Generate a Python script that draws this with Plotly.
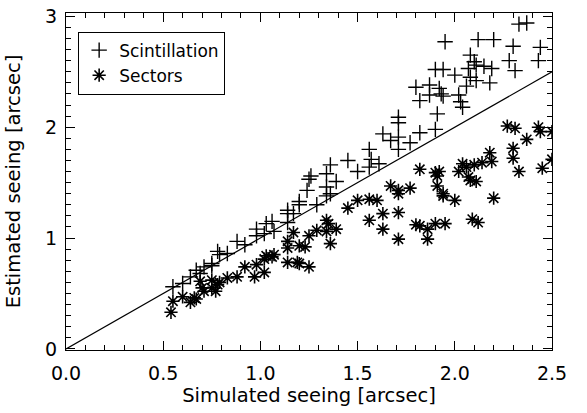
import plotly.graph_objects as go

# Scintillation estimates (+)
scint_x = [0.55, 0.60, 0.64, 0.67, 0.69, 0.71, 0.75, 0.75, 0.78, 0.79,
           0.83, 0.88, 0.92, 0.98, 0.98, 1.02, 1.03, 1.06, 1.07, 1.14,
           1.14, 1.17, 1.14, 1.20, 1.20, 1.24, 1.25, 1.26, 1.29, 1.34,
           1.34, 1.34, 1.36, 1.36, 1.39, 1.45, 1.50, 1.56, 1.57, 1.56,
           1.61, 1.63, 1.67, 1.71, 1.71, 1.71, 1.71, 1.77, 1.80, 1.82,
           1.82, 1.87, 1.87, 1.90, 1.90, 1.91, 1.92, 1.93, 1.94, 1.94,
           1.95, 2.00, 2.02, 2.03, 2.04, 2.06, 2.07, 2.08, 2.08, 2.10,
           2.11, 2.11, 2.12, 2.15, 2.18, 2.19, 2.20, 2.28, 2.30, 2.31,
           2.33, 2.37, 2.43, 2.44]
scint_y = [0.56, 0.59, 0.65, 0.71, 0.68, 0.74, 0.75, 0.77, 0.88, 0.85,
           0.86, 0.97, 0.94, 1.08, 1.02, 1.04, 1.13, 1.15, 1.06, 1.25,
           1.22, 1.22, 1.14, 1.30, 1.33, 1.43, 1.53, 1.56, 1.30, 1.46,
           1.58, 1.38, 1.40, 1.66, 1.51, 1.70, 1.60, 1.80, 1.71, 1.64,
           1.67, 1.94, 1.88, 1.91, 1.80, 2.04, 2.09, 1.86, 2.36, 2.24,
           1.95, 2.38, 2.29, 1.98, 2.52, 2.12, 2.35, 2.30, 2.28, 2.52,
           2.77, 2.47, 2.29, 2.23, 2.18, 2.37, 2.53, 2.45, 2.65, 2.59,
           2.56, 2.42, 2.79, 2.55, 2.40, 2.53, 2.79, 2.60, 2.73, 2.51,
           2.93, 2.94, 2.60, 2.72]

# Sectors estimates (*)
sect_x = [0.54, 0.55, 0.60, 0.64, 0.66, 0.67, 0.69, 0.70, 0.71, 0.75,
          0.75, 0.77, 0.78, 0.79, 0.83, 0.88, 0.92, 0.97, 0.98, 1.02,
          1.02, 1.03, 1.06, 1.07, 1.14, 1.14, 1.14, 1.17, 1.19, 1.20,
          1.20, 1.23, 1.25, 1.25, 1.29, 1.34, 1.35, 1.36, 1.39, 1.34,
          1.45, 1.50, 1.56, 1.60, 1.56, 1.63, 1.63, 1.67, 1.71, 1.71,
          1.71, 1.71, 1.77, 1.80, 1.82, 1.82, 1.86, 1.86, 1.90, 1.92,
          1.91, 1.91, 1.90, 1.94, 1.94, 1.95, 2.00, 2.02, 2.04, 2.06,
          2.07, 2.08, 2.09, 2.10, 2.11, 2.12, 2.14, 2.18, 2.19, 2.20,
          2.27, 2.30, 2.30, 2.31, 2.33, 2.37, 2.43, 2.44, 2.45, 2.50,
          2.50]
sect_y = [0.33, 0.43, 0.47, 0.42, 0.46, 0.45, 0.61, 0.55, 0.52, 0.62,
          0.55, 0.52, 0.58, 0.60, 0.64, 0.65, 0.74, 0.65, 0.76, 0.69,
          0.81, 0.84, 0.83, 0.85, 0.97, 0.91, 0.78, 1.05, 0.78, 0.77,
          0.93, 0.92, 1.02, 0.74, 1.07, 1.16, 1.13, 0.95, 1.08, 1.06,
          1.27, 1.34, 1.35, 1.34, 1.16, 1.22, 1.08, 1.47, 1.43, 1.40,
          1.23, 0.99, 1.45, 1.12, 1.11, 1.62, 1.08, 0.99, 1.59, 1.60,
          1.56, 1.47, 1.13, 1.40, 1.38, 1.13, 1.34, 1.60, 1.67, 1.64,
          1.55, 1.52, 1.17, 1.66, 1.51, 1.14, 1.68, 1.77, 1.69, 1.36,
          2.01, 1.81, 1.72, 1.99, 1.60, 1.89, 2.00, 1.96, 1.63, 1.96,
          1.71]

# One-to-one reference line
line_x = [0.0, 2.5]
line_y = [0.0, 2.5]

FONT = "DejaVu Sans"

fig = go.Figure()
fig.add_trace(go.Scatter(x=line_x, y=line_y, mode="lines",
                         line=dict(color="black", width=1.2),
                         showlegend=False, hoverinfo="skip"))
fig.add_trace(go.Scatter(x=scint_x, y=scint_y, mode="markers", name="Scintillation",
                         marker=dict(symbol="cross-thin-open", size=11, color="black",
                                     line=dict(color="black", width=1.4))))
fig.add_trace(go.Scatter(x=sect_x, y=sect_y, mode="markers", name="Sectors",
                         marker=dict(symbol="asterisk-open", size=11, color="black",
                                     line=dict(color="black", width=1.6))))

axis_common = dict(
    showline=True, linecolor="black", linewidth=1.2, mirror="allticks",
    ticks="inside", ticklen=9, tickwidth=1, tickcolor="black",
    showgrid=False, zeroline=False,
    tickfont=dict(family=FONT, size=19, color="black"),
    ticklabeloverflow="allow",
    minor=dict(ticks="inside", ticklen=4.5, tickwidth=1, tickcolor="black", dtick=0.1, showgrid=False),
)

fig.update_layout(
    width=587, height=413,
    margin=dict(l=66, r=35, t=5, b=63),
    paper_bgcolor="white", plot_bgcolor="white",
    font=dict(family=FONT, size=18, color="black"),
    xaxis=dict(range=[0, 2.5], dtick=0.5, tick0=0, tickformat=".1f",
               title=dict(text="Simulated seeing [arcsec]", font=dict(family=FONT, size=19.5), standoff=0),
               ticklabelstandoff=6,
               **axis_common),
    yaxis=dict(range=[-0.01, 3.03], dtick=1, tick0=0,
               title=dict(text="Estimated seeing [arcsec]", font=dict(family=FONT, size=19.5), standoff=19),
               ticklabelstandoff=4,
               **axis_common),
    legend=dict(x=0.025, y=0.945, xanchor="left", yanchor="top",
                bordercolor="black", borderwidth=1, bgcolor="white",
                font=dict(family=FONT, size=17, color="black"),
                itemwidth=30, tracegroupgap=0),
)

fig.write_html("out.html")
